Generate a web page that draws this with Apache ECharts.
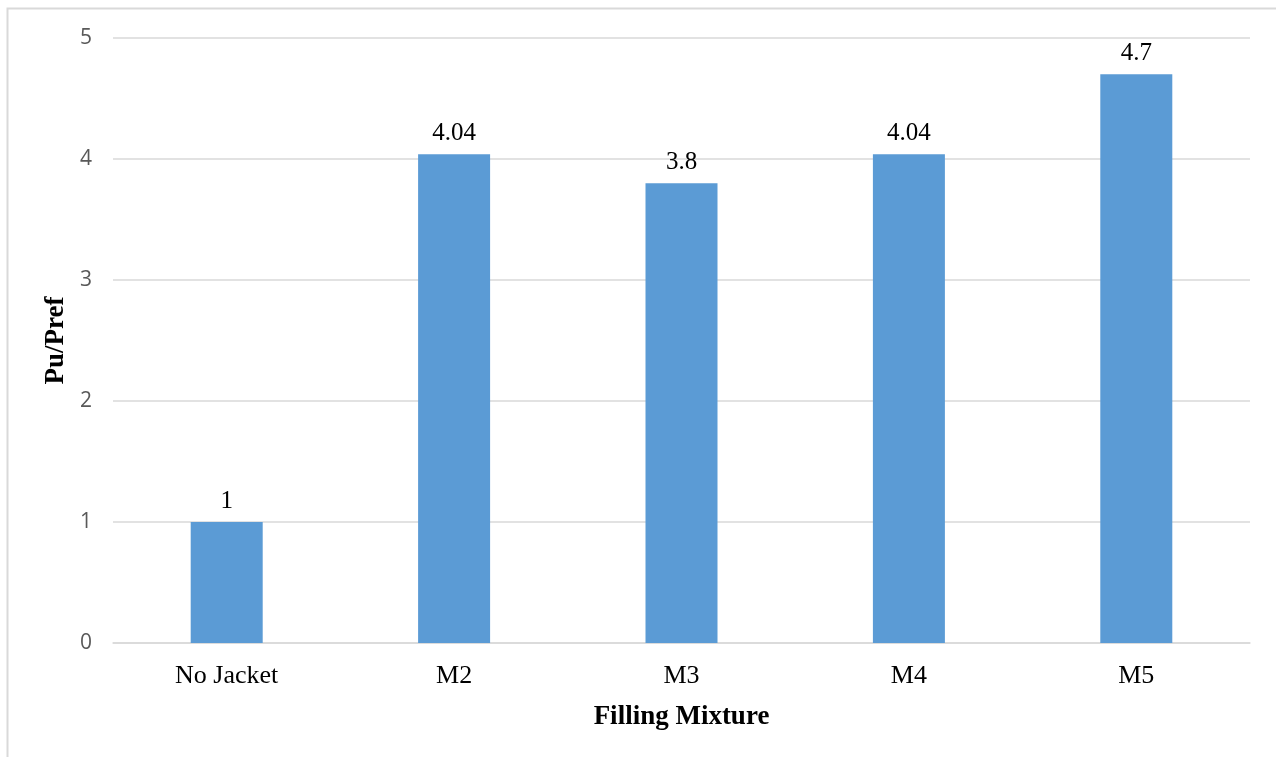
<!DOCTYPE html>
<html>
<head>
<meta charset="utf-8">
<script src="https://cdn.jsdelivr.net/npm/echarts@6/dist/echarts.min.js"></script>
<style>
  html, body { margin: 0; padding: 0; background: #fff; }
  #chart { width: 1276px; height: 757px; }
</style>
</head>
<body>
<div id="chart"></div>
<script>
// Load-capacity ratio for each filling mixture
const categories = ['No Jacket', 'M2', 'M3', 'M4', 'M5'];
const ratios = [1, 4.04, 3.8, 4.04, 4.7];
const yTicks = [0, 1, 2, 3, 4, 5];

const serif = '"Liberation Serif", "Times New Roman", serif';

const chart = echarts.init(document.getElementById('chart'), null, { renderer: 'canvas' });

chart.setOption({
  backgroundColor: '#ffffff',
  animation: false,
  graphic: [
    {
      type: 'polyline',
      shape: { points: [[7.5, 757], [7.5, 8.5], [1276, 8.5]] },
      style: { stroke: '#d9d9d9', lineWidth: 2, fill: null },
      silent: true
    }
  ],
  grid: { left: 113, right: 26, top: 38, bottom: 114 },
  xAxis: {
    type: 'category',
    data: categories,
    axisLine: { show: true, lineStyle: { color: '#d9d9d9', width: 1.5 } },
    axisTick: { show: false },
    axisLabel: {
      margin: 20,
      color: '#000',
      fontFamily: serif,
      fontSize: 26
    },
    name: 'Filling Mixture',
    nameLocation: 'middle',
    nameGap: 61,
    nameTextStyle: {
      color: '#000',
      fontFamily: serif,
      fontSize: 27,
      fontWeight: 'bold'
    }
  },
  yAxis: {
    type: 'value',
    min: yTicks[0],
    max: yTicks[yTicks.length - 1],
    interval: 1,
    axisLine: { show: false },
    axisTick: { show: false },
    splitLine: { lineStyle: { color: '#d9d9d9', width: 1.5 } },
    axisLabel: {
      margin: 21,
      color: '#595959',
      fontFamily: '"Open Sans", "Noto Sans", sans-serif',
      fontSize: 21
    },
    name: 'Pu/Pref',
    nameLocation: 'middle',
    nameGap: 42,
    nameTextStyle: {
      color: '#000',
      fontFamily: serif,
      fontSize: 27,
      fontWeight: 'bold'
    }
  },
  series: [
    {
      type: 'bar',
      data: ratios,
      barWidth: 72,
      itemStyle: { color: '#5b9bd5' },
      label: {
        show: true,
        position: 'top',
        distance: 8,
        color: '#000',
        fontFamily: serif,
        fontSize: 25
      }
    }
  ]
});
</script>
</body>
</html>
